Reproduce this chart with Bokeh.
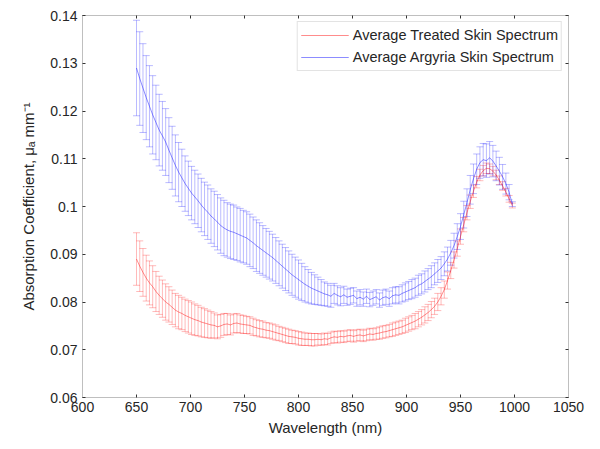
from bokeh.plotting import figure
from bokeh.models import (Range1d, FixedTicker, LinearAxis, ColumnDataSource,
                          Whisker, TeeHead, Legend, LegendItem)
from bokeh.embed import file_html
from bokeh.resources import INLINE

wavelength = [650, 653, 656, 659, 662, 665, 668, 671, 674, 677, 680, 683, 686, 689, 692, 695, 698,
              701, 704, 707, 710, 713, 716, 719, 722, 725, 728, 731, 734, 737, 740, 743, 746, 749,
              752, 755, 758, 761, 764, 767, 770, 773, 776, 779, 782, 785, 788, 791, 794, 797, 800,
              803, 806, 809, 812, 815, 818, 821, 824, 827, 830, 833, 836, 839, 842, 845, 848, 851,
              854, 857, 860, 863, 866, 869, 872, 875, 878, 881, 884, 887, 890, 893, 896, 899, 902,
              905, 908, 911, 914, 917, 920, 923, 926, 929, 932, 935, 938, 941, 944, 947, 950, 953,
              956, 959, 962, 965, 968, 971, 974, 977, 980, 983, 986, 989, 992, 995, 998]

treated_mean = [0.0890, 0.0875, 0.0862, 0.0850, 0.0840, 0.0832, 0.0822, 0.0814, 0.0807, 0.0800,
                0.0795, 0.0789, 0.0783, 0.0779, 0.0776, 0.0772, 0.0769, 0.0766, 0.0763, 0.0761,
                0.0758, 0.0756, 0.0754, 0.0752, 0.0751, 0.0748, 0.0750, 0.0753, 0.0754, 0.0752,
                0.0755, 0.0756, 0.0754, 0.0753, 0.0752, 0.0751, 0.0748, 0.0746, 0.0744, 0.0743,
                0.0741, 0.0740, 0.0738, 0.0736, 0.0734, 0.0732, 0.0730, 0.0728, 0.0727, 0.0726,
                0.0724, 0.0723, 0.0722, 0.0722, 0.0721, 0.0721, 0.0722, 0.0721, 0.0723, 0.0722,
                0.0725, 0.0727, 0.0726, 0.0728, 0.0727, 0.0729, 0.0730, 0.0728, 0.0730, 0.0731,
                0.0729, 0.0731, 0.0733, 0.0732, 0.0734, 0.0735, 0.0737, 0.0738, 0.0740, 0.0742,
                0.0744, 0.0746, 0.0748, 0.0751, 0.0754, 0.0757, 0.0760, 0.0764, 0.0768, 0.0773,
                0.0778, 0.0784, 0.0791, 0.0800, 0.0812, 0.0826, 0.0845, 0.0866, 0.0888, 0.0912,
                0.0937, 0.0962, 0.0987, 0.1010, 0.1032, 0.1051, 0.1066, 0.1075, 0.1080, 0.1079,
                0.1074, 0.1066, 0.1055, 0.1043, 0.1030, 0.1016, 0.1002]

treated_err = [0.0055, 0.0053, 0.0050, 0.0048, 0.0046, 0.0044, 0.0042, 0.0040, 0.0039, 0.0038,
               0.0037, 0.0036, 0.0035, 0.0035, 0.0034, 0.0034, 0.0034, 0.0034, 0.0033, 0.0032,
               0.0031, 0.0030, 0.0029, 0.0028, 0.0026, 0.0025, 0.0024, 0.0023, 0.0022, 0.0021,
               0.0020, 0.0020, 0.0019, 0.0019, 0.0018, 0.0018, 0.0018, 0.0017, 0.0017, 0.0017,
               0.0016, 0.0016, 0.0016, 0.0016, 0.0015, 0.0015, 0.0015, 0.0015, 0.0014, 0.0014,
               0.0014, 0.0014, 0.0013, 0.0013, 0.0013, 0.0013, 0.0012, 0.0012, 0.0012, 0.0012,
               0.0012, 0.0012, 0.0012, 0.0012, 0.0012, 0.0012, 0.0012, 0.0012, 0.0012, 0.0012,
               0.0012, 0.0012, 0.0012, 0.0012, 0.0012, 0.0013, 0.0013, 0.0013, 0.0013, 0.0014,
               0.0014, 0.0014, 0.0014, 0.0015, 0.0015, 0.0015, 0.0016, 0.0016, 0.0016, 0.0017,
               0.0017, 0.0017, 0.0017, 0.0018, 0.0018, 0.0018, 0.0018, 0.0017, 0.0017, 0.0016,
               0.0016, 0.0015, 0.0015, 0.0014, 0.0013, 0.0012, 0.0012, 0.0011, 0.0011, 0.0010,
               0.0010, 0.0010, 0.0009, 0.0009, 0.0008, 0.0007, 0.0005]

argyria_mean = [0.1290, 0.1268, 0.1248, 0.1228, 0.1210, 0.1192, 0.1176, 0.1160, 0.1148, 0.1135,
                0.1118, 0.1102, 0.1086, 0.1072, 0.1060, 0.1048, 0.1038, 0.1028, 0.1020, 0.1012,
                0.1003, 0.0995, 0.0988, 0.0980, 0.0974, 0.0967, 0.0960, 0.0955, 0.0951, 0.0948,
                0.0946, 0.0943, 0.0940, 0.0937, 0.0934, 0.0929, 0.0924, 0.0918, 0.0913, 0.0908,
                0.0903, 0.0898, 0.0893, 0.0887, 0.0881, 0.0875, 0.0869, 0.0863, 0.0857, 0.0852,
                0.0847, 0.0842, 0.0837, 0.0833, 0.0829, 0.0826, 0.0823, 0.0820, 0.0817, 0.0815,
                0.0812, 0.0818, 0.0814, 0.0811, 0.0815, 0.0810, 0.0812, 0.0814, 0.0807, 0.0810,
                0.0806, 0.0812, 0.0805, 0.0808, 0.0811, 0.0804, 0.0809, 0.0811, 0.0807, 0.0813,
                0.0815, 0.0814, 0.0818, 0.0821, 0.0824, 0.0827, 0.0830, 0.0835, 0.0838, 0.0843,
                0.0848, 0.0853, 0.0859, 0.0865, 0.0871, 0.0880, 0.0890, 0.0903, 0.0918, 0.0937,
                0.0958, 0.0983, 0.1008, 0.1035, 0.1058, 0.1078, 0.1092, 0.1098, 0.1096, 0.1102,
                0.1095, 0.1085, 0.1074, 0.1062, 0.1048, 0.1030, 0.1005]

argyria_err = [0.0100, 0.0098, 0.0093, 0.0088, 0.0085, 0.0082, 0.0078, 0.0075, 0.0072, 0.0070,
               0.0068, 0.0066, 0.0064, 0.0062, 0.0060, 0.0058, 0.0057, 0.0056, 0.0056, 0.0056,
               0.0056, 0.0056, 0.0057, 0.0057, 0.0058, 0.0058, 0.0058, 0.0058, 0.0057, 0.0057,
               0.0057, 0.0056, 0.0056, 0.0055, 0.0055, 0.0055, 0.0054, 0.0054, 0.0053, 0.0052,
               0.0051, 0.0050, 0.0049, 0.0048, 0.0047, 0.0046, 0.0045, 0.0044, 0.0043, 0.0042,
               0.0041, 0.0039, 0.0037, 0.0035, 0.0033, 0.0031, 0.0029, 0.0027, 0.0025, 0.0024,
               0.0023, 0.0021, 0.0020, 0.0019, 0.0018, 0.0017, 0.0017, 0.0016, 0.0016, 0.0016,
               0.0015, 0.0015, 0.0015, 0.0015, 0.0015, 0.0015, 0.0016, 0.0016, 0.0016, 0.0017,
               0.0017, 0.0018, 0.0018, 0.0019, 0.0019, 0.0020, 0.0020, 0.0021, 0.0021, 0.0022,
               0.0022, 0.0023, 0.0023, 0.0024, 0.0024, 0.0025, 0.0025, 0.0026, 0.0026, 0.0027,
               0.0027, 0.0028, 0.0029, 0.0030, 0.0031, 0.0032, 0.0033, 0.0034, 0.0035, 0.0034,
               0.0033, 0.0031, 0.0029, 0.0026, 0.0022, 0.0016, 0.0005]

x_ticks = [600, 650, 700, 750, 800, 850, 900, 950, 1000, 1050]
y_ticks = [0.06, 0.07, 0.08, 0.09, 0.1, 0.11, 0.12, 0.13, 0.14]
y_tick_labels = ["0.06", "0.07", "0.08", "0.09", "0.1", "0.11", "0.12", "0.13", "0.14"]
series_labels = ["Average Treated Skin Spectrum", "Average Argyria Skin Spectrum"]

FONT = "Liberation Sans"
TXT = "#262626"

p = figure(width=592, height=441, output_backend="svg", toolbar_location=None,
           x_range=Range1d(600, 1050), y_range=Range1d(0.06, 0.14),
           min_border_left=82, min_border_right=24, min_border_top=15, min_border_bottom=44,
           background_fill_color="white", border_fill_color="white")
p.grid.visible = False
p.outline_line_color = "#bfbfbf"

p.xaxis.ticker = FixedTicker(ticks=x_ticks)
p.yaxis.ticker = FixedTicker(ticks=y_ticks)
p.yaxis.major_label_overrides = dict(zip(y_ticks, y_tick_labels))
p.xaxis.axis_label = "Wavelength (nm)"
p.yaxis.axis_label = "Absorption Coefficient, \u03bc\u2090 mm\u207b\u00b9"

for ax in (p.xaxis[0], p.yaxis[0]):
    ax.axis_line_color = "#bfbfbf"
    ax.major_tick_line_color = "#333333"
    ax.major_tick_in = 3
    ax.major_tick_out = 0
    ax.minor_tick_line_color = None
    ax.major_label_text_font = FONT
    ax.major_label_text_font_size = "14px"
    ax.major_label_text_color = TXT
    ax.axis_label_text_font = FONT
    ax.axis_label_text_font_size = "15px"
    ax.axis_label_text_color = TXT
    ax.axis_label_text_font_style = "normal"
p.xaxis.major_label_standoff = 4
p.xaxis.axis_label_standoff = 4
p.yaxis.major_label_standoff = 5
p.yaxis.axis_label_standoff = 10

for loc, tk in (("above", x_ticks), ("right", y_ticks)):
    ax = LinearAxis(ticker=FixedTicker(ticks=tk), axis_line_color="#bfbfbf",
                    major_tick_line_color="#333333", major_tick_in=3, major_tick_out=0,
                    minor_tick_line_color=None, major_label_text_color=None,
                    major_label_text_font_size="1px", major_label_standoff=0)
    p.add_layout(ax, loc)

def draw(mean, err, color):
    lo = [m - e for m, e in zip(mean, err)]
    hi = [m + e for m, e in zip(mean, err)]
    src = ColumnDataSource(dict(x=wavelength, m=mean, lo=lo, hi=hi))
    w = Whisker(source=src, base="x", lower="lo", upper="hi", dimension="height",
                line_color=color, line_alpha=0.27, line_width=1,
                lower_head=TeeHead(size=7, line_color=color, line_alpha=0.27, line_width=1),
                upper_head=TeeHead(size=7, line_color=color, line_alpha=0.27, line_width=1))
    p.add_layout(w)
    return p.line("x", "m", source=src, line_color=color, line_alpha=0.45, line_width=1)

r_treated = draw(treated_mean, treated_err, "#ff0000")
r_argyria = draw(argyria_mean, argyria_err, "#0000ff")

legend = Legend(items=[LegendItem(label=series_labels[0], renderers=[r_treated]),
                       LegendItem(label=series_labels[1], renderers=[r_argyria])],
                location="top_right", margin=6, padding=3, spacing=2,
                glyph_width=48, glyph_height=20, label_standoff=4,
                label_text_font=FONT, label_text_font_size="14.5px", label_text_color=TXT,
                border_line_color="#c8c8c8", background_fill_color="white",
                background_fill_alpha=1.0)
p.add_layout(legend, "center")

open("out.html", "w").write(file_html(p, INLINE))
